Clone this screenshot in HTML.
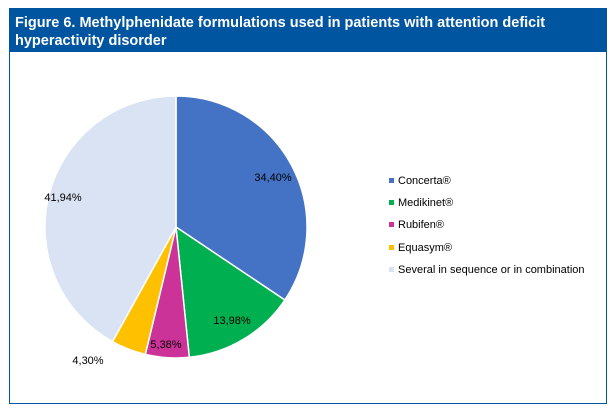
<!DOCTYPE html>
<html><head><meta charset="utf-8"><style>
body{margin:0;width:613px;height:412px;background:#fff;overflow:hidden;font-family:"Liberation Sans",sans-serif}
</style></head><body>
<svg width="613" height="412" xmlns="http://www.w3.org/2000/svg">
<rect x="9.5" y="8.5" width="597" height="395" fill="#fff" stroke="#0055A0" stroke-width="1"/>
<rect x="9" y="8" width="598" height="44" fill="#0055A0"/>
<text x="15" y="27" fill="#fff" font-size="14.5" font-weight="bold">Figure 6. Methylphenidate formulations used in patients with attention deficit</text>
<text x="15" y="45" fill="#fff" font-size="14.5" font-weight="bold">hyperactivity disorder</text>
<g stroke="#fff" stroke-width="1.5">
<path d="M176,227 L176,96 A131,131 0 0 1 284.8,300 Z" fill="#4472C4"/>
<path d="M176,227 L284.8,300 A131,131 0 0 1 189.3,357.3 Z" fill="#00B050"/>
<path d="M176,227 L189.3,357.3 A131,131 0 0 1 145.3,354.4 Z" fill="#CC3399"/>
<path d="M176,227 L145.3,354.4 A131,131 0 0 1 112.5,341.6 Z" fill="#FFC000"/>
<path d="M176,227 L112.5,341.6 A131,131 0 0 1 176,96 Z" fill="#DAE3F3"/>
</g>
<g font-size="11" fill="#000" text-anchor="middle">
<text x="273" y="181">34,40%</text>
<text x="232" y="324">13,98%</text>
<text x="166" y="348">5,38%</text>
<text x="88" y="364">4,30%</text>
<text x="63" y="201">41,94%</text>
</g>
<g font-size="11" fill="#000">
<rect x="389" y="178" width="5" height="5" fill="#4472C4"/><text x="398" y="184">Concerta®</text>
<rect x="389" y="200" width="5" height="5" fill="#00B050"/><text x="398" y="206">Medikinet®</text>
<rect x="389" y="222" width="5" height="5" fill="#CC3399"/><text x="398" y="228">Rubifen®</text>
<rect x="389" y="245" width="5" height="5" fill="#FFC000"/><text x="398" y="251">Equasym®</text>
<rect x="389" y="267" width="5" height="5" fill="#DAE3F3"/><text x="398" y="273">Several in sequence or in combination</text>
</g>
</svg>
</body></html>
